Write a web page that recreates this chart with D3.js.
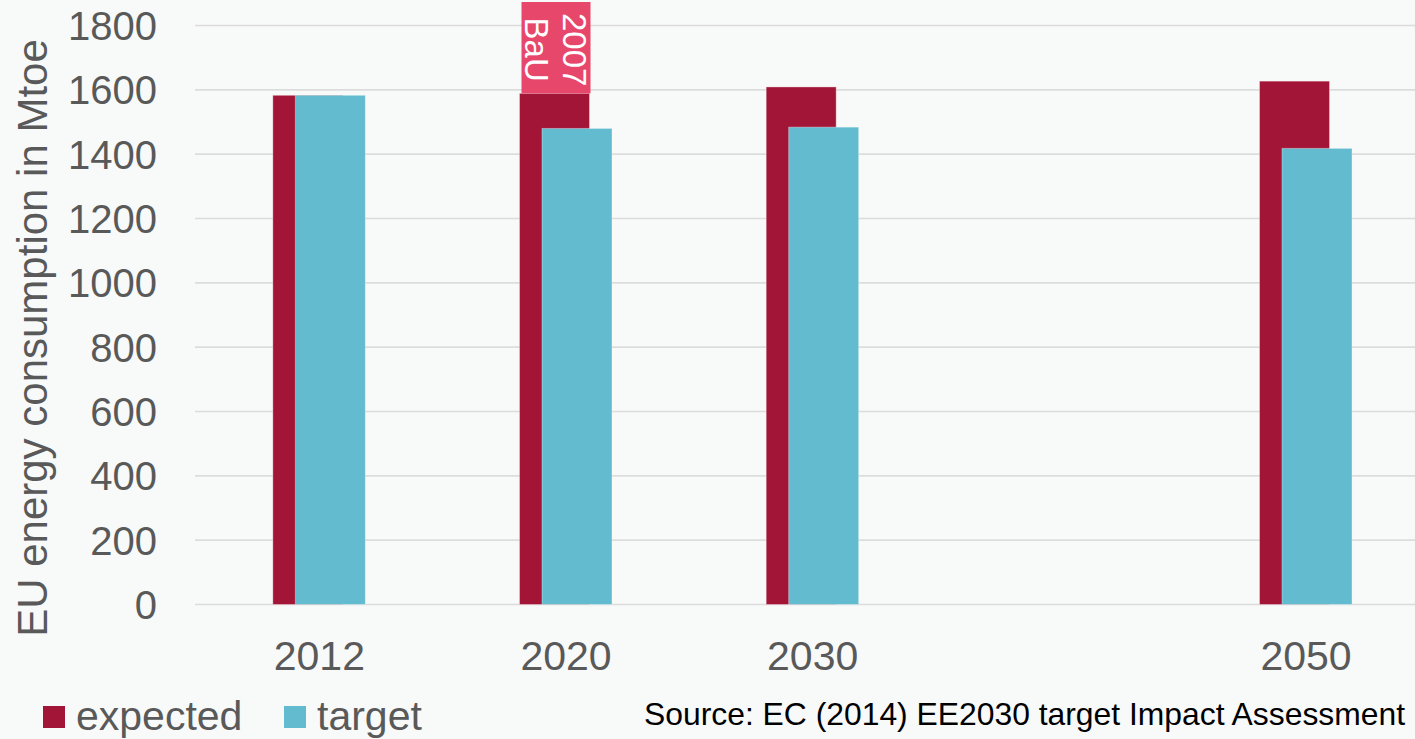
<!DOCTYPE html>
<html>
<head>
<meta charset="utf-8">
<script src="https://cdn.jsdelivr.net/npm/d3@7"></script>
<style>
  html, body { margin: 0; padding: 0; background: #f8f9f9; }
  svg { display: block; }
  text { font-family: "Liberation Sans", Arial, sans-serif; }
</style>
</head>
<body>
<svg id="chart" width="1415" height="739"></svg>
<script>
// ---- data ----
const categories = ["2012", "2020", "2030", "", "2050"];
const expected   = [1583, 1589, 1609, null, 1627];
const target     = [1583, 1480, 1484, null, 1418];
const yTicks     = [0, 200, 400, 600, 800, 1000, 1200, 1400, 1600, 1800];
const seriesNames = ["expected", "target"];
const annotation = { category: "2020", lines: ["2007", "BaU"] };

// ---- layout ----
const W = 1415, H = 739;
const svg = d3.select("#chart");
svg.append("rect").attr("width", W).attr("height", H).attr("fill", "#f8f9f9");

const colors = { expected: "#a31537", target: "#62bbcf", label: "#e8476c" };

const x = d3.scaleBand().domain(categories).range([196, 196 + 5 * 246.67]).padding(0);
const y = d3.scaleLinear().domain([0, 1800]).range([604.5, 25.5]);

const barW = 70, offset = 22.5;

// gridlines
svg.append("g").selectAll("line").data(yTicks).join("line")
  .attr("x1", 195).attr("x2", W)
  .attr("y1", d => y(d)).attr("y2", d => y(d))
  .attr("stroke", "#dcdcdc").attr("stroke-width", 1.6);

// y tick labels
svg.append("g").selectAll("text").data(yTicks).join("text")
  .attr("x", 157).attr("y", d => y(d)).attr("dy", "0.36em")
  .attr("text-anchor", "end")
  .attr("font-size", 40).attr("fill", "#595959")
  .text(d => d);

// y axis title
svg.append("text")
  .attr("transform", "translate(47,338) rotate(-90)")
  .attr("text-anchor", "middle")
  .attr("font-size", 42).attr("fill", "#595959")
  .text("EU energy consumption in Mtoe");

const center = c => x(c) + x.bandwidth() / 2;

const data = categories.map((c, i) => ({ c, e: expected[i], t: target[i] }))
  .filter(d => d.c !== "");

// expected bars
svg.append("g").selectAll("rect").data(data).join("rect")
  .attr("x", d => center(d.c) - 46.5)
  .attr("y", d => y(d.e))
  .attr("width", barW)
  .attr("height", d => y(0) - y(d.e))
  .attr("fill", colors.expected)
  .attr("stroke", "rgba(255,255,255,0.35)").attr("stroke-width", 1);

// target bars
svg.append("g").selectAll("rect").data(data).join("rect")
  .attr("x", d => center(d.c) - 46.5 + offset)
  .attr("y", d => y(d.t))
  .attr("width", barW)
  .attr("height", d => y(0) - y(d.t))
  .attr("fill", colors.target)
  .attr("stroke", "rgba(255,255,255,0.35)").attr("stroke-width", 1);

// annotation box above 2020 expected bar
const ai = categories.indexOf(annotation.category);
const ax = center(annotation.category) - 46.5 + 2;
const aTop = 2, aBottom = y(expected[ai]);
svg.append("rect")
  .attr("x", ax).attr("y", aTop)
  .attr("width", 69).attr("height", aBottom - aTop)
  .attr("fill", colors.label);
const at = svg.append("text")
  .attr("transform", `translate(${ax + 41},${(aTop + aBottom) / 2 + 2}) rotate(90)`)
  .attr("text-anchor", "middle")
  .attr("font-size", 33).attr("fill", "#ffffff");
annotation.lines.forEach((l, i) => {
  at.append("tspan").attr("x", 0).attr("dy", i === 0 ? 0 : 38).text(l);
});

// x labels
svg.append("g").selectAll("text").data(data).join("text")
  .attr("x", d => center(d.c)).attr("y", 670)
  .attr("text-anchor", "middle")
  .attr("font-size", 41).attr("fill", "#595959")
  .text(d => d.c);

// legend
const legendX = [43, 284];
seriesNames.forEach((s, i) => {
  svg.append("rect").attr("x", legendX[i]).attr("y", 706).attr("width", 22).attr("height", 22)
    .attr("fill", colors[s]);
  svg.append("text").attr("x", legendX[i] + 33).attr("y", 730)
    .attr("font-size", 41).attr("fill", "#595959").text(s);
});

// source
svg.append("text")
  .attr("x", 644).attr("y", 725)
  .attr("font-size", 32).attr("fill", "#000")
  .attr("textLength", 761).attr("lengthAdjust", "spacingAndGlyphs")
  .text("Source: EC (2014) EE2030 target Impact Assessment");
</script>
</body>
</html>
